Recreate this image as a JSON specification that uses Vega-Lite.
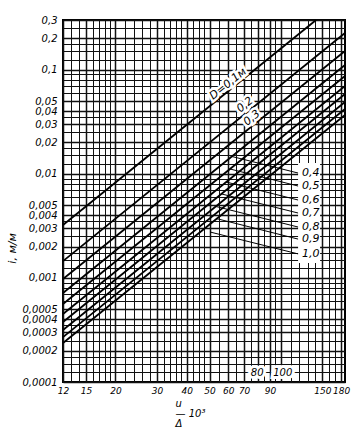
{
  "$schema": "https://vega.github.io/schema/vega-lite/v6.json",
  "autosize": "none",
  "padding": {"left": 63, "top": 20, "right": 16, "bottom": 52},
  "width": 282,
  "height": 362,
  "background": "#ffffff",
  "config": {
    "view": {"stroke": "#000000", "strokeWidth": 2},
    "text": {"font": "DejaVu Sans", "fontStyle": "italic"}
  },
  "datasets": {
    "lines": [
      {"D": 0.1, "x": 12, "i": 0.00322}, {"D": 0.1, "x": 141.1, "i": 0.3},
      {"D": 0.2, "x": 12, "i": 0.00145}, {"D": 0.2, "x": 187, "i": 0.225},
      {"D": 0.3, "x": 12, "i": 0.000975}, {"D": 0.3, "x": 187, "i": 0.151},
      {"D": 0.4, "x": 12, "i": 0.000716}, {"D": 0.4, "x": 187, "i": 0.111},
      {"D": 0.5, "x": 12, "i": 0.000561}, {"D": 0.5, "x": 187, "i": 0.087},
      {"D": 0.6, "x": 12, "i": 0.00045}, {"D": 0.6, "x": 187, "i": 0.0697},
      {"D": 0.7, "x": 12, "i": 0.000377}, {"D": 0.7, "x": 187, "i": 0.0584},
      {"D": 0.8, "x": 12, "i": 0.000316}, {"D": 0.8, "x": 187, "i": 0.0489},
      {"D": 0.9, "x": 12, "i": 0.00027}, {"D": 0.9, "x": 187, "i": 0.0419},
      {"D": 1.0, "x": 12, "i": 0.000237}, {"D": 1.0, "x": 187, "i": 0.0367}
    ],
    "leaders": [
      {"x": 62.0, "i": 0.01468, "x2": 118.4, "i2": 0.01017},
      {"x": 60.9, "i": 0.01113, "x2": 118.4, "i2": 0.00763},
      {"x": 58.7, "i": 0.00834, "x2": 118.4, "i2": 0.0056},
      {"x": 55.9, "i": 0.00642, "x2": 118.4, "i2": 0.0042},
      {"x": 53.05, "i": 0.00486, "x2": 118.4, "i2": 0.00308},
      {"x": 53.5, "i": 0.00371, "x2": 118.4, "i2": 0.00236},
      {"x": 50.2, "i": 0.00276, "x2": 118.4, "i2": 0.0017}
    ],
    "rightLabels": [
      {"x": 123.1, "i": 0.01017, "t": "0,4"},
      {"x": 123.1, "i": 0.00763, "t": "0,5"},
      {"x": 123.1, "i": 0.0056, "t": "0,6"},
      {"x": 123.1, "i": 0.0042, "t": "0,7"},
      {"x": 123.1, "i": 0.00308, "t": "0,8"},
      {"x": 123.1, "i": 0.00236, "t": "0,9"},
      {"x": 123.1, "i": 0.0017, "t": "1,0"}
    ],
    "rotLabels": [
      {"x": 59.9, "i": 0.0728, "t": "D=0,1м"},
      {"x": 70.7, "i": 0.0458, "t": "0,2"},
      {"x": 75.6, "i": 0.0343, "t": "0,3"}
    ],
    "gridLabels": [
      {"x": 79.5, "i": 0.000122, "t": "80"},
      {"x": 102, "i": 0.000122, "t": "100"}
    ],
    "blank": [
      {"x": 118.4, "x2": 146.7, "i": 0.01269, "i2": 0.00139}
    ]
  },
  "encoding": {
    "x": {
      "field": "x", "type": "quantitative",
      "scale": {"type": "log", "domain": [12, 187], "nice": false},
      "axis": {
        "values": [12,13,14,15,16,17,18,19,20,22,24,26,28,30,32,34,36,38,40,42.5,45,47.5,50,55,60,65,70,75,80,85,90,95,100,110,120,130,140,150,160,170,180],
        "labelExpr": "indexof([12,15,20,30,40,50,60,70,90,150,180], datum.value) >= 0 ? toString(datum.value) : ''",
        "grid": true,
        "gridColor": "#111111",
        "gridWidth": {"condition": {"test": "indexof([12,15,20,30,40,50,60,70,80,90,100,150,180], datum.value) >= 0", "value": 1.5}, "value": 1},
        "ticks": false,
        "domain": false,
        "labelPadding": 4,
        "labelFont": "DejaVu Sans",
        "labelFontStyle": "italic",
        "labelFontSize": 9,
        "labelColor": "#000000",
        "labelFlush": false,
        "labelOverlap": false,
        "labelBound": false,
        "title": ["\u00a0u", "—\u00a010³", "\u00a0Δ"],
        "titleAlign": "left",
        "titleBaseline": "top",
        "titleX": 112,
        "titleY": 16,
        "titleFont": "DejaVu Sans",
        "titleFontStyle": "italic",
        "titleFontWeight": "normal",
        "titleFontSize": 10,
        "titleLineHeight": 10,
        "titleColor": "#000000"
      }
    },
    "y": {
      "field": "i", "type": "quantitative",
      "scale": {"type": "log", "domain": [0.0001, 0.3], "nice": false},
      "axis": {
        "values": [0.0001,0.000125,0.00015,0.000175,0.0002,0.00025,0.0003,0.00035,0.0004,0.0005,0.0006,0.0007,0.0008,0.0009,0.001,0.00125,0.0015,0.00175,0.002,0.0025,0.003,0.0035,0.004,0.005,0.006,0.007,0.008,0.009,0.01,0.0125,0.015,0.0175,0.02,0.025,0.03,0.035,0.04,0.05,0.06,0.07,0.08,0.09,0.1,0.125,0.15,0.175,0.2,0.25,0.3],
        "labelExpr": "indexof([0.3,0.2,0.1,0.05,0.04,0.03,0.02,0.01,0.005,0.004,0.003,0.002,0.001,0.0005,0.0004,0.0003,0.0002,0.0001], datum.value) >= 0 ? replace(toString(datum.value), '.', ',') : ''",
        "grid": true,
        "gridColor": "#111111",
        "gridWidth": {"condition": {"test": "indexof([0.3,0.2,0.1,0.05,0.04,0.03,0.02,0.01,0.005,0.004,0.003,0.002,0.001,0.0005,0.0004,0.0003,0.0002,0.0001], datum.value) >= 0", "value": 1.5}, "value": 1},
        "ticks": false,
        "domain": false,
        "labelPadding": 6,
        "labelFont": "DejaVu Sans",
        "labelFontStyle": "italic",
        "labelFontSize": 10,
        "labelColor": "#000000",
        "labelFlush": false,
        "labelOverlap": false,
        "labelBound": false,
        "title": "i, м/м",
        "titleAngle": -90,
        "titleBaseline": "middle",
        "titleAlign": "center",
        "titleX": -51,
        "titleY": 228,
        "titleFont": "DejaVu Sans",
        "titleFontStyle": "italic",
        "titleFontWeight": "normal",
        "titleFontSize": 11,
        "titleColor": "#000000"
      }
    }
  },
  "layer": [
    {
      "data": {"name": "blank"},
      "mark": {"type": "rect", "fill": "#ffffff", "stroke": null},
      "encoding": {"x2": {"field": "x2"}, "y2": {"field": "i2"}}
    },
    {
      "data": {"name": "lines"},
      "mark": {"type": "line", "color": "#000000", "strokeWidth": 1.8},
      "encoding": {"detail": {"field": "D", "type": "nominal"}}
    },
    {
      "data": {"name": "leaders"},
      "mark": {"type": "rule", "color": "#000000", "strokeWidth": 1},
      "encoding": {"x2": {"field": "x2"}, "y2": {"field": "i2"}}
    },
    {
      "data": {"name": "rotLabels"},
      "mark": {"type": "text", "angle": -39, "fontSize": 11, "fill": "#ffffff", "stroke": "#ffffff", "strokeWidth": 5},
      "encoding": {"text": {"field": "t"}}
    },
    {
      "data": {"name": "rotLabels"},
      "mark": {"type": "text", "angle": -39, "fontSize": 11, "color": "#000000"},
      "encoding": {"text": {"field": "t"}}
    },
    {
      "data": {"name": "rightLabels"},
      "mark": {"type": "text", "align": "left", "baseline": "middle", "fontSize": 11, "color": "#000000"},
      "encoding": {"text": {"field": "t"}}
    },
    {
      "data": {"name": "gridLabels"},
      "mark": {"type": "text", "fontSize": 10, "baseline": "middle", "fill": "#ffffff", "stroke": "#ffffff", "strokeWidth": 6},
      "encoding": {"text": {"field": "t"}}
    },
    {
      "data": {"name": "gridLabels"},
      "mark": {"type": "text", "fontSize": 10, "baseline": "middle", "color": "#000000"},
      "encoding": {"text": {"field": "t"}}
    }
  ]
}
